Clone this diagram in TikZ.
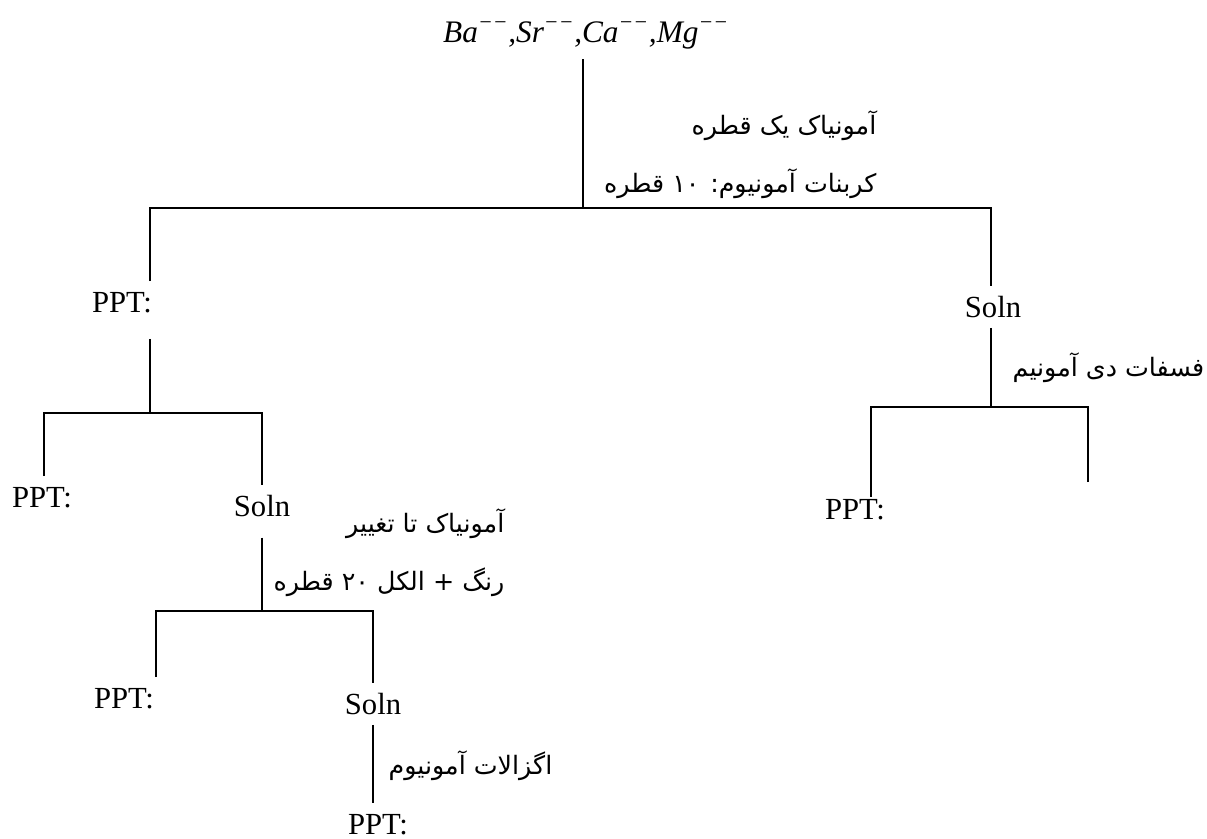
\documentclass[tikz,border=0pt]{standalone}
\usepackage{fontspec}
\setmainfont{Liberation Serif}
\newfontfamily\fafont[Script=Arabic]{DejaVu Sans}
\TeXXeTstate=1
\usepackage{tikz}

\begin{document}
\begin{tikzpicture}[x=0.75pt, y=-0.75pt, line width=1pt,
    lat/.style={inner sep=0pt, outer xsep=0pt, outer ysep=8pt, text height=15.4pt, text depth=0pt, font=\fontsize{23}{27}\selectfont},
    ion/.style={inner sep=0pt, outer ysep=8pt, anchor=base, font=\fontsize{23.5}{27}\selectfont\itshape},
    fa/.style={inner sep=0pt, font=\fafont\fontsize{19}{22}\selectfont}]
  \useasboundingbox (0,0) rectangle (1207,839);

  \node[ion] (ions) at (586,42) {Ba\textsuperscript{−−},Sr\textsuperscript{−−},Ca\textsuperscript{−−},Mg\textsuperscript{−−}};
  \node[lat] (ppt1) at (122,302) {PPT:};
  \node[lat] (soln1) at (993,307) {Soln};
  \node[lat] (ppt2) at (42,497) {PPT:};
  \node[lat] (soln2) at (262,506) {Soln};
  \node[lat] (ppt3) at (124,698) {PPT:};
  \node[lat] (soln3) at (373,704) {Soln};
  \node[lat] (ppt4) at (378,824) {PPT:};
  \node[lat] (ppt5) at (855,509) {PPT:};

  \node[fa, anchor=east] (nh1) at (877,126) {\beginR آمونیاک یک قطره\endR};
  \node[fa, anchor=east] (carb) at (877,184) {\beginR کربنات آمونیوم: \beginL ۱۰\endL{} قطره\endR};
  \node[fa, anchor=west] (phos) at (1012,368) {\beginR فسفات دی آمونیم\endR};
  \node[fa, anchor=east] (nh2) at (505,524) {\beginR آمونیاک تا تغییر\endR};
  \node[fa, anchor=east] (alc) at (505,582) {\beginR رنگ + الکل \beginL ۲۰\endL{} قطره\endR};
  \node[fa, anchor=west] (oxal) at (388,766) {\beginR اگزالات آمونیوم\endR};

  \coordinate (j0) at (583,208);
  \coordinate (bl) at (150,208);
  \coordinate (br) at (991,208);
  \coordinate (j1) at (150,413);
  \coordinate (l2) at (44,413);
  \coordinate (r2) at (262,413);
  \coordinate (j2) at (262,611);
  \coordinate (l3) at (156,611);
  \coordinate (r3) at (373,611);
  \coordinate (j3) at (991,407);
  \coordinate (l4) at (871,407);
  \coordinate (r4) at (1088,407);
  \coordinate (e4) at (1088,482);

  \draw (ions.south -| j0) -- (j0);
  \draw (ppt1.north -| bl) -- (bl) -- (br) -- (soln1.north -| br);
  \draw[shorten <=12pt] (ppt1.south -| j1) -- (j1);
  \draw (ppt2.north -| l2) -- (l2) -- (r2) -- (soln2.north -| r2);
  \draw[shorten <=8pt] (soln2.south) -- (j2);
  \draw (ppt3.north -| l3) -- (l3) -- (r3) -- (soln3.north -| r3);
  \draw (soln3.south) -- (ppt4.north -| soln3.south);
  \draw (soln1.south -| j3) -- (j3);
  \draw[shorten >=-7pt] (e4) -- (r4) -- (l4) -- (ppt5.north -| l4);
\end{tikzpicture}
\end{document}
